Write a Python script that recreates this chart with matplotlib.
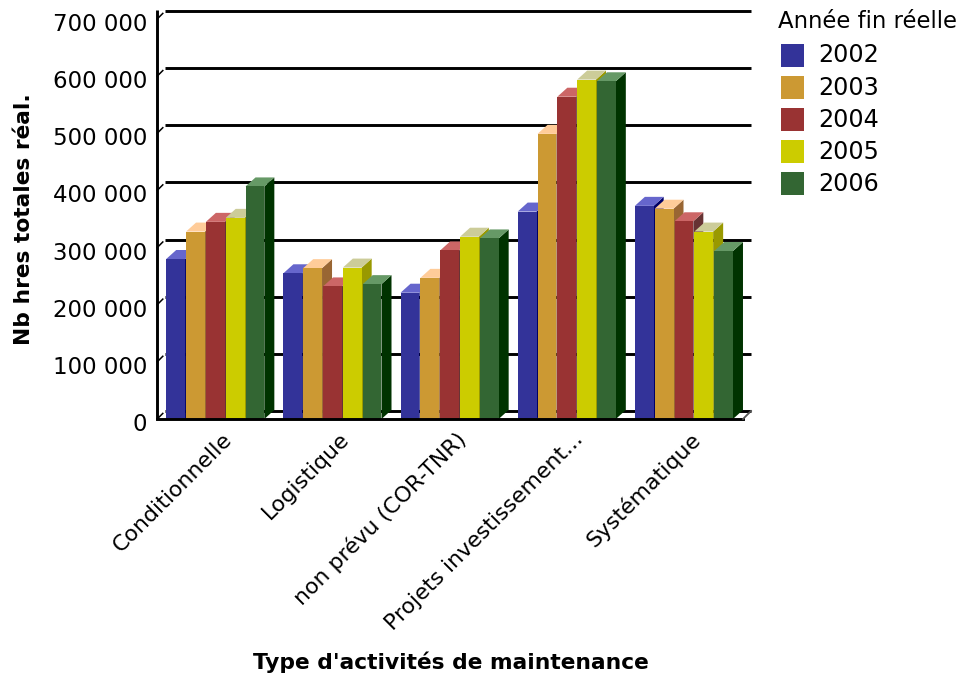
import matplotlib
matplotlib.use("Agg")
import matplotlib.pyplot as plt
import matplotlib.transforms as mtransforms
from matplotlib.patches import Rectangle
from matplotlib.ticker import FixedLocator, FuncFormatter

# ---- data -------------------------------------------------------------
categories = ["Conditionnelle", "Logistique", "non prévu (COR-TNR)",
              "Projets investissement...", "Systématique"]
years = ["2002", "2003", "2004", "2005", "2006"]
hours_2002 = [280000, 255000, 221000, 363000, 373000]
hours_2003 = [328000, 264000, 247000, 499000, 368000]
hours_2004 = [345000, 232000, 295000, 564000, 346000]
hours_2005 = [352000, 265000, 319000, 594000, 328000]
hours_2006 = [407000, 236000, 316000, 591000, 294000]
y_ticks = [0, 100000, 200000, 300000, 400000, 500000, 600000, 700000]

series = [hours_2002, hours_2003, hours_2004, hours_2005, hours_2006]

# face colours of the pseudo-3D bars
front_colors = ["#333399", "#CC9933", "#993333", "#CCCC00", "#336633"]
top_colors = ["#6666CC", "#FFCC99", "#CC6666", "#CCCC99", "#669966"]
side_colors = ["#000066", "#996633", "#663333", "#999900", "#003300"]

# ---- figure / axes ----------------------------------------------------
W, H = 961, 676
fig = plt.figure(figsize=(W / 100, H / 100), dpi=100)
plt.rcParams["font.family"] = ["DejaVu Sans"]

ax_left, ax_right, ax_top, ax_bottom = 157.2, 743.0, 19.0, 419.0
ax = fig.add_axes([ax_left / W, 1 - ax_bottom / H,
                   (ax_right - ax_left) / W, (ax_bottom - ax_top) / H])
ax.set_xlim(-0.5, 4.5)
ax.set_ylim(0, 700000)
for sp in ax.spines.values():
    sp.set_visible(False)

px_x = (ax_right - ax_left) / 5.0
px_y = (ax_bottom - ax_top) / 700000.0


def dxu(px):
    return px / px_x


def dyu(px):
    return px / px_y


# depth of the back wall and of the bars
wall_dx, wall_dy = dxu(8), dyu(8)
bar_dx, bar_dy = dxu(10), dyu(9)

lw = 2.1
xmin, xmax = -0.5, 4.5

# back-wall gridlines and the small diagonal ticks
for t in y_ticks:
    ax.plot([xmin + wall_dx, xmax + wall_dx], [t + wall_dy, t + wall_dy],
            color="black", lw=lw, zorder=1, clip_on=False,
            solid_capstyle="butt")
    ax.plot([xmin, xmin + wall_dx * 0.7], [t, t + wall_dy * 0.7],
            color="black", lw=1.1, zorder=1, clip_on=False)

# left axis line and front floor edge
ax.plot([xmin, xmin], [0, 700000 + wall_dy * 1.1], color="black", lw=lw,
        zorder=50, clip_on=False, solid_capstyle="butt")
ax.plot([xmin, xmax], [0, 0], color="black", lw=lw, zorder=50,
        clip_on=False, solid_capstyle="projecting")
ax.plot([xmax, xmax + wall_dx], [0, wall_dy], color="#555555", lw=1.3,
        zorder=50, clip_on=False)

# ---- bars ---------------------------------------------------------------
group_w = 0.846
slot = group_w / len(series)
front_w = slot - dxu(1)

for i in range(len(categories)):
    for k, vals in enumerate(series):
        v = vals[i]
        x0 = i - group_w / 2 + k * slot
        z = 2 + i * 0.1 + k * 0.01
        # right side face
        ax.fill([x0 + front_w, x0 + front_w + bar_dx, x0 + front_w + bar_dx,
                 x0 + front_w],
                [0, bar_dy, v + bar_dy, v],
                color=side_colors[k], lw=0, zorder=z, clip_on=False)
        # top face
        ax.fill([x0, x0 + front_w, x0 + front_w + bar_dx, x0 + bar_dx],
                [v, v, v + bar_dy, v + bar_dy],
                color=top_colors[k], lw=0, zorder=z, clip_on=False)
        # front face
        ax.bar(x0, v, width=front_w, align="edge", color=front_colors[k],
               lw=0, zorder=z, clip_on=False)

# ---- y tick labels --------------------------------------------------------
ax.yaxis.set_major_locator(FixedLocator(y_ticks))
ax.yaxis.set_major_formatter(
    FuncFormatter(lambda v, p: f"{int(v):,}".replace(",", " ")))
ax.tick_params(axis="y", length=0, pad=7.2, labelsize=16.5)
ax.set_xticks([])
shift = mtransforms.ScaledTranslation(0, -3 / 100, fig.dpi_scale_trans)
for lab in ax.get_yticklabels():
    lab.set_transform(lab.get_transform() + shift)

# ---- rotated category labels ---------------------------------------------
lab_trans = (mtransforms.blended_transform_factory(ax.transData, ax.transAxes)
             + mtransforms.ScaledTranslation(13 / 100, -17 / 100,
                                             fig.dpi_scale_trans))
for i, name in enumerate(categories):
    ax.text(i, 0, name, transform=lab_trans, rotation=45,
            rotation_mode="anchor", ha="right", va="center", fontsize=15.8)

# ---- axis titles -----------------------------------------------------------
fig.text(24 / W, 1 - 219 / H, "Nb hres totales réal.", rotation=90,
         ha="center", va="center", fontsize=15.7, fontweight="bold")
fig.text(451 / W, 1 - 662 / H, "Type d'activités de maintenance",
         ha="center", va="center", fontsize=15.7, fontweight="bold")

# ---- legend ------------------------------------------------------------------
fig.text(778 / W, 1 - 21 / H, "Année fin réelle", ha="left", va="center",
         fontsize=16.4)
sq = 23
for k, yr in enumerate(years):
    cy = 55.5 + 32.1 * k
    fig.add_artist(Rectangle((781 / W, 1 - (cy + sq / 2) / H), sq / W, sq / H,
                             transform=fig.transFigure,
                             facecolor=front_colors[k], edgecolor="none"))
    fig.text(818 / W, 1 - cy / H, yr, ha="left", va="center", fontsize=17.2)

fig.savefig("out.png", dpi=100)
